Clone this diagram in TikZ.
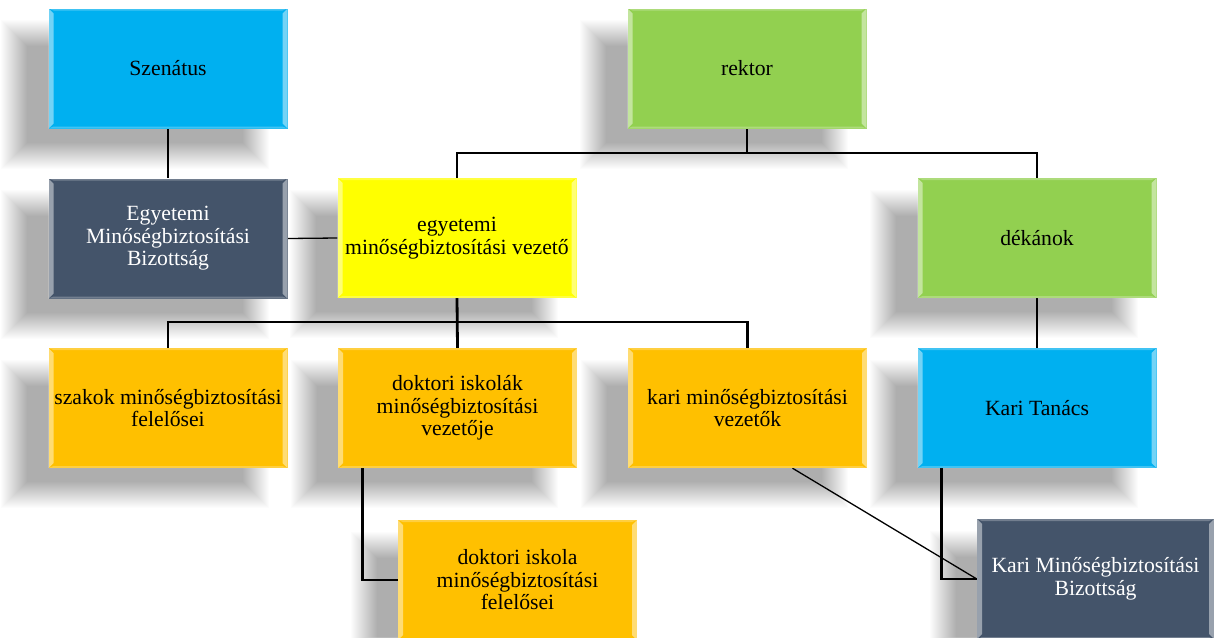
\documentclass[tikz,border=0pt]{standalone}
\usepackage{fontspec}
\setmainfont{Liberation Serif}
\usetikzlibrary{calc}
\pgfdeclarelayer{bg}
\pgfdeclarelayer{shadow}
\pgfdeclarelayer{lines}
\pgfsetlayers{bg,shadow,lines,main}
\definecolor{cyanbox}{HTML}{00B0F0}
\definecolor{darkbox}{HTML}{44546A}
\definecolor{yelbox}{HTML}{FFFF00}
\definecolor{greenbox}{HTML}{92D050}
\definecolor{orangebox}{HTML}{FFC000}
\newcommand\myshadow[1]{%
  \begin{pgfonlayer}{shadow}
    \foreach \i in {-14,-13,...,12}{%
      \fill[black,opacity=0.012] ($(#1.north west)+({-33+\i},{26+\i})$) rectangle ($(#1.south east)+({-33-\i},{26-\i})$);
    }
  \end{pgfonlayer}}
\tikzset{
  box/.style={rectangle, minimum width=239pt, minimum height=120pt, inner sep=0pt,
    align=center, font=\fontsize{21.7}{22.5}\selectfont,
    path picture={
      \fill[white,opacity=0.45] (path picture bounding box.north west) -- ++(5,5)
        -- ($(path picture bounding box.south west)+(5,-5)$) -- (path picture bounding box.south west) -- cycle;
      \fill[white,opacity=0.45] (path picture bounding box.north east) -- ++(-5,5)
        -- ($(path picture bounding box.south east)+(-5,-5)$) -- (path picture bounding box.south east) -- cycle;
      \fill[white,opacity=0.25] (path picture bounding box.north west) -- (path picture bounding box.north east)
        -- ++(-5,2) -- ($(path picture bounding box.north west)+(5,2)$) -- cycle;
      \fill[white,opacity=0.25] (path picture bounding box.south west) -- (path picture bounding box.south east)
        -- ++(-5,-2) -- ($(path picture bounding box.south west)+(5,-2)$) -- cycle;
    }},
  cyanb/.style={box, fill=cyanbox, text=black},
  darkb/.style={box, fill=darkbox, text=white},
  yelb/.style={box, fill=yelbox, text=black},
  greenb/.style={box, fill=greenbox, text=black},
  orangeb/.style={box, fill=orangebox, text=black},
  thick line/.style={line width=2.8pt, black},
  thin line/.style={line width=1.3pt, black},
}
\begin{document}
\begin{tikzpicture}[x=1pt,y=-1pt]
  \begin{pgfonlayer}{bg}
    \fill[white] (0,0) rectangle (1214,637);
  \end{pgfonlayer}
  \useasboundingbox (0,0) rectangle (1214,637);

  \node[cyanb]   (szen) at (168,68.5)  {Szenátus};
  \node[darkb]   (emb)  at (168,238.5) {Egyetemi\\Minőségbiztosítási\\Bizottság};
  \node[greenb]  (rek)  at (747,68.5)  {rektor};
  \node[yelb]    (yel)  at (457,238)   {egyetemi\\minőségbiztosítási vezető};
  \node[greenb]  (dek)  at (1037,238)  {dékánok};
  \node[orangeb] (szak) at (168,408)   {szakok minőségbiztosítási\\felelősei};
  \node[orangeb] (dokt) at (457.5,408) {doktori iskolák\\minőségbiztosítási\\vezetője};
  \node[orangeb] (kari) at (747.5,408) {kari minőségbiztosítási\\vezetők};
  \node[cyanb]   (kt)   at (1037,408)  {Kari Tanács};
  \node[orangeb] (dif)  at (517.5,580) {doktori iskola\\minőségbiztosítási\\felelősei};
  \node[darkb, minimum width=237pt] (kmb) at (1095.5,579) {Kari Minőségbiztosítási\\Bizottság};

  \foreach \n in {szen,emb,rek,yel,dek,szak,dokt,kari,kt,dif,kmb}{\myshadow{\n}}

  \coordinate (rj) at (747,153);
  \coordinate (yj) at (457,322);

  \begin{pgfonlayer}{lines}
    \draw[thick line] (szen.south) -- (emb.north);
    \draw[thin line] (emb.east) -- (yel.west);
    \draw[thick line] (rek.south) -- (rj);
    \draw[thick line] (yel.north) |- (rj) -| (dek.north);
    \draw[thick line] (yel.south) -- (dokt.north);
    \draw[thick line] (szak.north) |- (yj) -| (kari.north);
    \draw[thick line] (dek.south) -- (kt.north);
    \draw[thick line] ($(dokt.south west)+(25,0)$) |- (dif.west);
    \draw[thick line] ($(kt.south west)+(24,0)$) |- (kmb.west);
    \draw[thin line] ($(kari.south)+(45,0)$) -- (kmb.west);
  \end{pgfonlayer}
\end{tikzpicture}
\end{document}
